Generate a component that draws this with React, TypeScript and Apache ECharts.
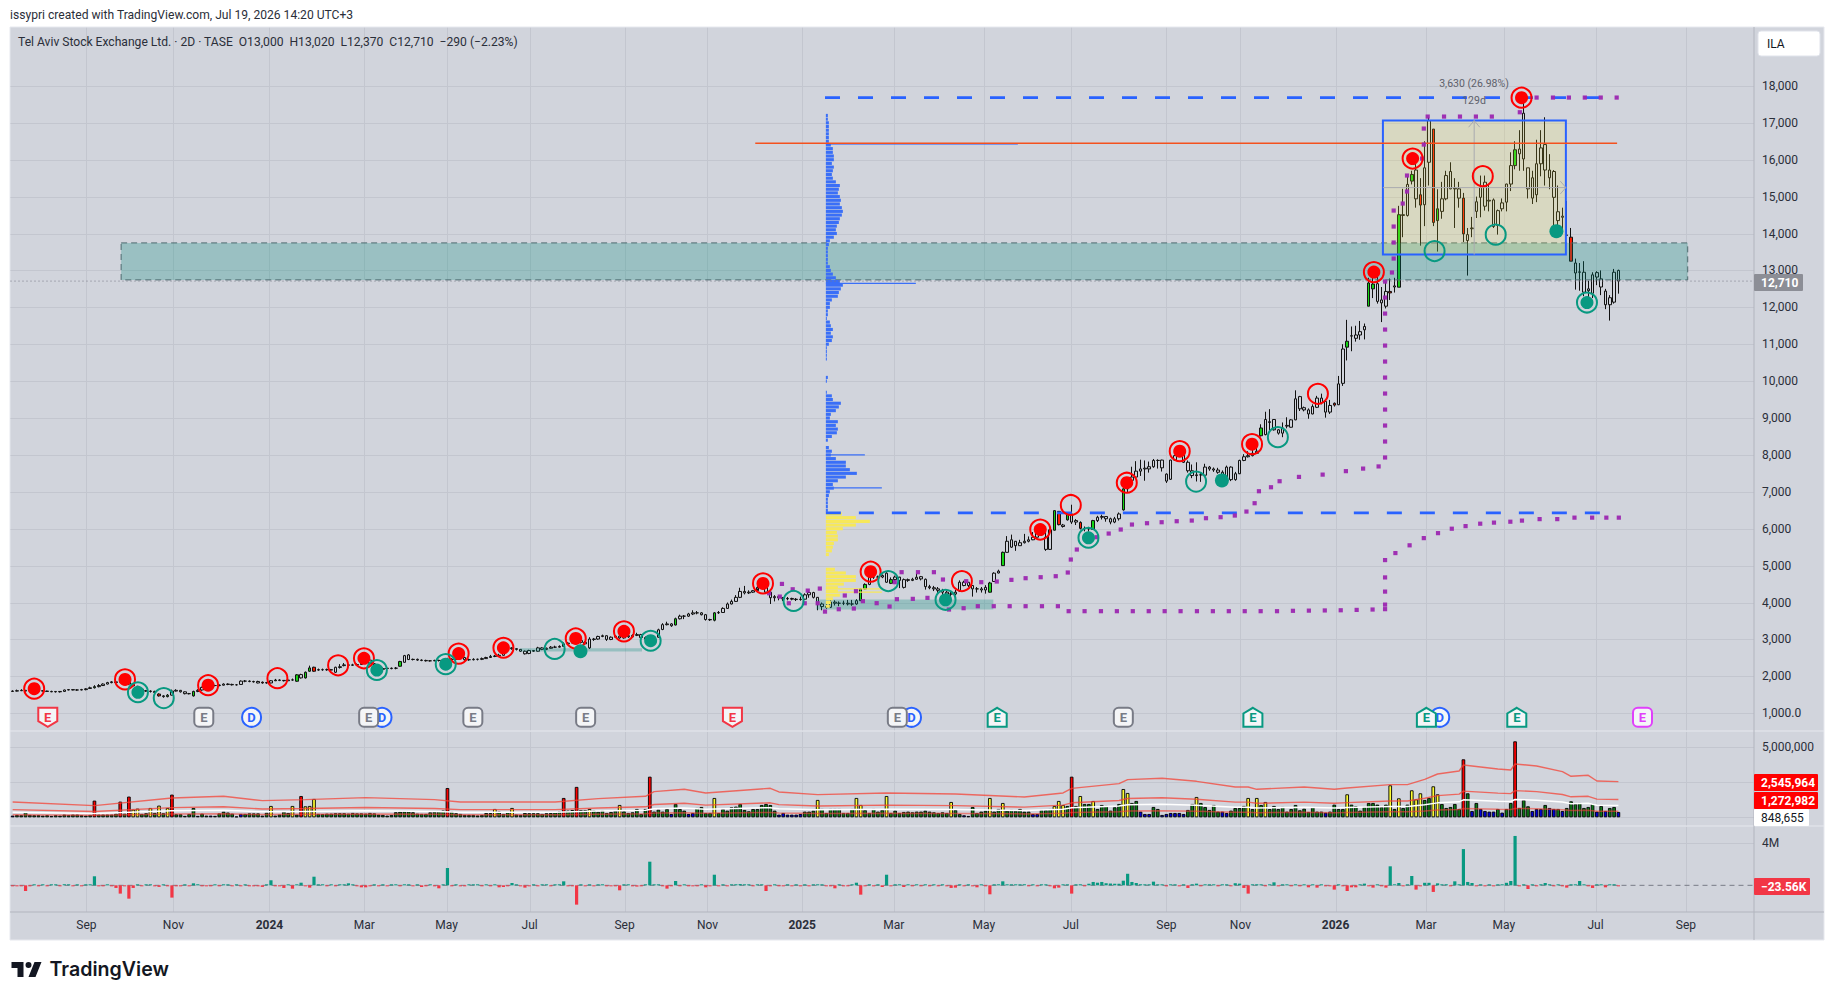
import React, { useEffect, useRef } from "react";
import * as echarts from "echarts";

const FONT = "Roboto, 'Noto Sans', sans-serif";
const SLOTS = 405;

const opens = [
1590,1600,1610,1620,1610,1650,1640,1610,1600,1590,
1590,1580,1590,1630,1640,1630,1630,1640,1670,1690,
1720,1750,1790,1830,1850,1840,1880,1880,1790,1730,
1650,1610,1600,1590,1520,1470,1450,1490,1600,1620,
1580,1530,1470,1590,1630,1700,1740,1750,1750,1760,
1790,1780,1770,1780,1870,1870,1850,1860,1840,1830,
1820,1880,1900,1890,1880,1900,1867,1957,1957,2138,
2246,2170,2180,2180,2180,2110,2240,2290,2310,2300,
2310,2320,2380,2440,2340,2220,2190,2220,2210,2220,
2273,2380,2580,2455,2460,2440,2430,2420,2420,2430,
2430,2420,2460,2460,2520,2510,2450,2450,2460,2460,
2480,2510,2540,2550,2570,2700,2770,2750,2730,2680,
2620,2700,2680,2770,2730,2760,2790,2790,2810,2880,
2900,2920,2970,2920,2770,3000,3010,3080,3100,3000,
3060,3090,3040,3100,3070,3110,3130,3050,3010,2960,
3060,3270,3400,3420,3390,3560,3630,3630,3690,3720,
3720,3670,3540,3520,3720,3730,3840,3960,4030,4140,
4300,4260,4280,4320,4410,4500,4280,4130,4160,4130,
4100,4110,4090,4080,4090,4210,4270,4140,3960,3890,
3870,4010,3980,3980,3980,3960,3960,4050,4370,4490,
4690,4690,4690,4550,4520,4620,4690,4410,4620,4600,
4630,4700,4630,4430,4400,4370,4330,4280,4230,4230,
4310,4460,4550,4460,4370,4370,4340,4280,4570,4800,
5000,5360,5500,5660,5540,5620,5660,5700,5770,5950,
5770,5440,5960,6470,6060,6240,6400,6180,6170,6010,
6000,5980,6220,6310,6330,6270,6180,6270,6510,7080,
7310,7400,7560,7640,7620,7680,7850,7860,7480,7340,
7860,7980,8010,7800,7570,7440,7460,7450,7670,7620,
7590,7530,7400,7670,7330,7490,7850,7950,7980,8045,
8520,8550,8880,8960,8680,8590,8780,8750,8950,9580,
9280,9110,9110,9290,9540,9450,9160,9400,9360,9940,
10920,11220,11160,11250,11390,12030,12500,12640,12200,12030,
12430,12550,12545,14490,14490,15420,15720,15050,14780,15930,
16830,14350,14600,14940,15210,15210,14960,14960,13810,14130,
14600,14980,14740,14880,14910,14220,14670,14850,15340,15840,
16160,16020,15780,15510,15050,15890,16410,15720,15680,14350,
14440,13960,13900,13200,12950,12950,12500,12380,12820,12770,
12440,12070,12140,13000,
];
const highs = [
1620,1640,1650,1630,1680,1690,1660,1620,1610,1610,
1600,1600,1640,1650,1650,1650,1660,1680,1720,1760,
1790,1810,1850,1870,1860,1900,1930,1890,1800,1740,
1680,1630,1620,1610,1540,1490,1520,1640,1650,1630,
1590,1550,1610,1650,1720,1770,1790,1770,1780,1810,
1810,1800,1790,1890,1900,1890,1880,1880,1860,1850,
1900,1930,1920,1900,1930,1940,2060,2070,2130,2290,
2260,2210,2210,2210,2200,2260,2330,2360,2330,2340,
2350,2400,2480,2460,2360,2240,2240,2240,2240,2250,
2420,2580,2600,2480,2480,2460,2450,2440,2450,2450,
2450,2500,2490,2550,2550,2530,2480,2490,2480,2510,
2530,2580,2580,2610,2720,2800,2790,2760,2740,2700,
2720,2710,2800,2790,2780,2820,2830,2840,2920,2930,
2950,3000,2980,2950,3060,3040,3100,3130,3110,3080,
3120,3110,3120,3130,3140,3180,3150,3080,3040,3080,
3290,3440,3480,3440,3590,3670,3660,3720,3790,3770,
3740,3690,3560,3740,3770,3870,4000,4080,4200,4400,
4450,4330,4340,4460,4560,4520,4300,4200,4190,4150,
4150,4130,4120,4160,4250,4320,4290,4150,4000,3980,
4060,4060,4030,4050,4070,4070,4090,4380,4520,4720,
4730,4730,4760,4820,4680,4730,4680,4650,4650,4670,
4800,4720,4650,4480,4450,4420,4370,4320,4310,4340,
4600,4590,4540,4470,4420,4420,4470,4560,4820,4890,
5380,5800,5840,5650,5700,5860,5790,5910,5990,6030,
5990,6000,6500,6480,6130,6420,6650,6260,6200,6060,
6050,6240,6350,6380,6340,6300,6320,6440,7100,7380,
7680,7830,7870,7850,7820,7890,7880,7870,7500,7870,
8000,8050,8020,7850,7740,7800,7520,7760,7700,7660,
7650,7580,7710,7690,7540,7870,8020,8100,8170,8200,
8830,9170,9240,8970,8700,8880,9020,8970,9750,9600,
9310,9260,9370,9600,9660,9470,9490,9420,10140,11000,
11660,11480,11500,11630,11560,12800,12900,12900,12550,12700,
12780,12800,14750,15210,15540,15700,16030,15500,16500,17150,
16830,15200,15400,15700,15930,15500,15400,15100,14150,14450,
15000,15570,15570,15330,14950,14650,14950,15350,16200,16500,
16800,17700,15780,15700,16540,16800,17150,16150,15720,15300,
14700,14880,14150,13320,13200,13250,12720,12950,12980,13000,
12500,12330,13040,13020,
];
const lows = [
1580,1590,1600,1590,1600,1640,1610,1590,1580,1570,
1560,1560,1580,1620,1620,1610,1620,1620,1660,1670,
1700,1740,1780,1810,1810,1830,1860,1760,1720,1640,
1580,1580,1560,1540,1450,1420,1430,1480,1590,1560,
1510,1510,1450,1570,1610,1680,1730,1730,1730,1750,
1760,1750,1750,1770,1840,1840,1830,1810,1800,1800,
1810,1870,1870,1860,1870,1880,1850,1940,1940,2120,
2120,2150,2150,2150,2090,2090,2210,2270,2280,2280,
2290,2310,2370,2320,2170,2170,2170,2190,2190,2190,
2260,2370,2440,2430,2420,2410,2400,2400,2410,2400,
2400,2410,2430,2450,2480,2420,2420,2430,2430,2440,
2470,2500,2520,2530,2560,2690,2720,2700,2660,2590,
2600,2660,2670,2710,2710,2750,2770,2780,2800,2860,
2880,2900,2890,2860,2740,2960,2990,3060,2960,2980,
3040,3020,3020,3040,3050,3090,3030,2980,2930,2950,
3050,3250,3380,3340,3380,3540,3550,3610,3660,3680,
3650,3510,3500,3490,3690,3720,3830,3950,4020,4120,
4220,4230,4260,4380,4480,4240,3960,4030,4060,4040,
4060,4060,4040,4050,4080,4130,4110,3790,3790,3830,
3850,3920,3900,3930,3920,3910,3940,4040,4360,4470,
4640,4650,4660,4530,4500,4580,4390,4380,4560,4580,
4620,4600,4350,4360,4310,4260,4180,4090,4120,4190,
4290,4440,4420,4160,4270,4270,4240,4270,4560,4790,
4990,5350,5480,5400,5540,5600,5630,5690,5760,5900,
5400,5430,5950,6090,6030,6220,6130,6100,5980,5930,
5920,5970,6180,6250,6190,6120,6150,6220,6490,6970,
7290,7390,7430,7300,7520,7650,7630,7550,7240,7320,
7840,7960,7780,7520,7370,7280,7270,7400,7570,7540,
7490,7340,7380,7290,7300,7480,7830,7930,7960,8030,
8500,8530,8660,8660,8550,8480,8720,8740,8940,9190,
9180,8980,9100,9270,9370,9010,9110,9310,9350,9870,
10560,10810,11070,11120,11130,12030,12250,12100,11600,11970,
12200,12400,12545,13900,14460,15330,14700,13670,14200,15300,
14200,13510,14400,14900,15200,14150,14700,13770,12860,13900,
14420,14440,14620,14600,14150,13970,14600,14600,15150,15740,
15700,15700,14950,14800,14850,15550,15300,15200,14200,14100,
14000,13940,13250,12480,12450,12300,12200,12250,12600,12330,
11950,11640,12100,12370,
];
const closes = [
1600,1610,1620,1600,1650,1660,1620,1600,1590,1580,
1580,1590,1630,1640,1630,1630,1640,1660,1690,1720,
1750,1790,1830,1850,1830,1880,1900,1790,1740,1660,
1600,1600,1590,1560,1470,1450,1490,1600,1620,1580,
1530,1530,1590,1620,1700,1750,1750,1750,1760,1790,
1780,1770,1770,1870,1870,1860,1860,1820,1820,1820,
1880,1900,1890,1880,1900,1903,2040,2047,2110,2228,
2138,2180,2180,2180,2170,2245,2260,2310,2300,2310,
2320,2380,2440,2340,2200,2190,2210,2210,2220,2220,
2400,2560,2455,2460,2440,2430,2420,2420,2430,2430,
2420,2460,2460,2520,2520,2450,2450,2460,2460,2480,
2510,2540,2550,2570,2700,2770,2750,2730,2680,2610,
2700,2680,2770,2730,2760,2790,2790,2810,2880,2900,
2920,2970,2920,2880,3010,3010,3080,3100,3000,3060,
3090,3040,3100,3070,3110,3130,3050,3010,2960,3060,
3260,3400,3420,3370,3560,3630,3630,3690,3720,3720,
3670,3540,3530,3720,3730,3840,3960,4030,4140,4300,
4260,4280,4320,4410,4500,4280,4130,4160,4130,4100,
4110,4090,4080,4090,4210,4270,4140,3960,3890,3870,
4010,3980,3980,3980,3960,3960,4050,4370,4490,4690,
4690,4690,4730,4795,4620,4690,4600,4620,4600,4630,
4685,4640,4430,4400,4370,4330,4280,4230,4230,4280,
4550,4550,4460,4370,4370,4340,4410,4530,4795,4850,
5360,5660,5700,5540,5620,5660,5700,5770,5950,5990,
5440,5970,6490,6110,6100,6400,6180,6220,6010,6000,
6000,6220,6310,6330,6270,6180,6270,6400,7080,7305,
7400,7560,7620,7620,7680,7850,7850,7650,7290,7860,
7980,8010,7800,7570,7440,7460,7460,7670,7620,7590,
7530,7400,7670,7330,7490,7850,7950,7980,8045,8100,
8730,8960,8900,8680,8590,8730,8800,8950,9520,9250,
9220,9220,9310,9540,9410,9160,9340,9350,9925,10870,
11080,11230,11250,11340,11480,12660,12630,12160,12120,12430,
12390,12580,14510,14510,15330,15600,14940,14770,15780,17060,
14300,14670,14940,15570,15680,15230,15210,13990,13970,14150,
14860,15250,15390,14900,14190,14620,14830,15340,15840,16270,
16290,17260,15210,14960,15890,16320,15720,15510,14980,14590,
14470,13950,13250,12930,12960,12410,12450,12880,12940,12550,
12070,12260,12950,12710,
];
const greenCandles = [19,36,42,61,66,68,69,90,154,163,197,198,204,227,230,242,245,251,258,290,310,315,316,322,325,331,349];
const redCandles = [34,58,70,243,248,307,320,327,330,337,362];

const volumesK = [
120,170,150,360,170,150,150,120,150,100,
150,120,190,150,190,190,150,120,170,1190,
190,190,190,190,260,1120,260,1480,547,620,
240,290,666,310,833,290,666,1620,220,220,
100,240,666,100,260,120,120,100,280,400,
340,260,60,240,240,280,280,280,120,330,
810,120,200,400,310,810,190,1520,785,810,
1310,240,230,260,260,290,290,290,260,310,
280,280,260,310,280,190,170,120,170,360,
410,430,430,360,260,240,240,360,410,430,
480,2090,400,290,240,170,170,170,130,170,
310,300,595,410,240,360,666,200,170,310,
290,290,290,240,290,310,360,410,1380,480,
520,2170,520,520,595,480,400,
476,309,381,476,880,428,309,357,595,238,
595,2900,405,547,405,595,238,952,595,476,
238,309,666,738,309,309,1380,309,595,476,
714,762,952,524,428,595,595,880,952,880,
476,190,309,190,190,190,238,405,405,476,
1240,595,309,595,595,595,309,309,595,1380,
880,524,309,595,405,524,1520,309,476,309,
380,405,357,405,405,476,405,357,309,357,
309,1095,524,238,143,95,738,309,405,476,
1380,405,595,1023,476,524,476,595,405,405,
238,238,524,524,595,810,1166,880,810,2900,
810,1520,952,952,1166,595,880,810,476,714,
952,2020,1737,1023,1166,405,238,238,738,595,
167,238,309,309,309,238,524,952,1450,1023,
738,524,880,405,405,309,476,666,666,810,
1380,595,1380,880,1095,595,810,595,738,405,
595,880,500,
619,381,714,405,405,333,405,904,595,595,
1642,904,785,476,738,1023,1023,904,738,904,
2285,595,1357,666,904,1928,1285,1714,1238,1380,
2213,1642,952,666,738,952,595,4141,1714,452,
1023,595,452,405,405,595,333,595,1023,5426,
666,1238,785,452,595,595,880,666,595,595,
452,666,1142,952,1023,666,738,952,405,809,
452,666,738,381,
];
const yellowVolumes = [28,29,32,34,36,60,65,68,69,70,112,116,134,141,163,187,196,197,203,218,227,230,242,243,244,248,251,258,259,275,287,289,291,310,320,322,325,326,327,330,331];
const redVolumes = [19,25,27,37,67,101,128,131,148,246,337,349];
const blueVolumes = [0,43,46,52,53,153,157,158,178,179,180,181,182,183,221,222,237,238,262,263,264,267,268,269,270,271,272,281,282,305,339,341,342,343,344,346,353,354,355,357,358,360,368,370,373];

const deltasK = [
-20,-20,-20,-540,-20,20,-20,20,-20,20,
20,-20,30,20,-20,20,-20,20,90,860,
-20,-20,20,-20,-250,-790,-20,-1270,-250,20,
-30,20,30,-20,-150,20,-30,-1170,-20,-20,
20,-20,190,100,-20,-20,-30,20,-20,20,
20,-20,30,-20,20,-50,-20,-30,-150,20,
480,-20,-30,-250,20,-320,20,250,-30,-220,
820,40,20,-20,20,-20,20,20,190,40,
-20,-190,-190,-20,20,-30,20,-20,20,30,
-30,20,40,-20,20,-160,-20,20,-30,-285,
20,1650,-60,20,-20,-30,40,20,20,-20,
40,-20,60,-190,-160,-20,220,20,-30,-220,
-30,20,-20,50,20,-20,40,30,380,-20,
-50,-1840,60,-20,40,-20,20,30,-20,-30,
-20,-475,20,40,-30,-120,-20,20,2250,30,
20,-20,-315,-20,410,-40,60,-30,-20,-30,
40,-190,-20,1010,-30,20,-20,60,100,120,
30,20,-20,20,40,-540,-20,20,-20,-30,
20,-20,30,-20,30,-40,20,40,30,-20,
-40,-285,20,-20,-30,60,250,-890,-40,20,
-30,40,-160,1010,-30,20,40,-160,20,-30,
20,-20,30,-20,40,-30,20,-40,-250,-220,
30,-20,20,-20,-190,40,-40,-855,90,30,
380,90,60,40,50,30,-20,40,-40,30,
50,-60,-285,-220,60,30,-790,40,100,-40,
150,320,250,320,200,170,150,150,440,1100,
320,220,100,90,60,350,60,20,-100,30,
40,-30,60,-250,100,160,-40,60,30,60,
-40,30,60,-30,200,160,-250,-790,20,100,
30,-40,60,285,-30,40,20,-30,50,-20,
30,-190,20,-220,40,-30,-60,-410,30,-40,
-540,-190,-190,40,160,-30,-220,30,-20,-220,
1810,20,220,-30,30,890,-410,-60,240,240,
-630,190,40,100,-30,380,20,3450,320,220,
-30,60,-20,30,-20,20,30,240,410,4700,
-20,30,-350,30,-20,20,220,30,-40,20,
-30,-220,50,60,410,40,-30,-250,30,60,
-190,30,100,-23.56,
];

const bandPos = [0,19,37,49,58,68,82,98,104,126,136,147,149,156,161,176,178,187,203,219,235,244,246,257,259,267,275,284,287,289,300,307,310,320,324,328,331,336,337,345,348,349,354,360,362,366,368,373];
const bandUpperK = [1095,833,1380,1500,1190,1260,1404,1260,1095,1095,1333,1500,1833,2000,1737,2070,1810,1620,1737,1666,1450,1737,2070,2404,2690,2785,2570,2166,2166,2000,2166,2000,2094,2332,2332,2713,3094,3308,3737,3451,3380,3808,3665,3261,2927,2999,2594,2546];
const bandMidK = [548,417,690,750,595,630,702,630,548,548,667,750,917,1000,869,1035,905,810,869,833,725,869,1035,1202,1345,1393,1285,1083,1083,1000,1083,1000,1047,1166,1166,1357,1547,1654,1869,1726,1690,1904,1833,1631,1464,1500,1297,1273];
const volumeMaK = [365,278,460,500,397,420,468,420,365,365,444,500,611,667,579,690,603,540,579,555,483,579,690,801,897,928,857,722,722,667,722,667,698,777,777,904,1031,1103,1246,1150,1127,1269,1222,1087,976,1000,865,849];
const bandLowK = [183,139,230,250,198,210,234,210,183,183,222,250,306,333,290,345,302,270,290,278,242,290,345,401,448,464,428,361,361,333,361,333,349,389,389,452,516,551,623,575,563,635,611,544,488,500,432,424];

const purpleDots = [
[176.2,4251],[178.7,4161],[179.2,4504],[180.8,3980],[181.7,4359],[184.5,3980],[185.2,4323],[187.5,3980],[188,4378],[189.2,3754],[192.4,3818],
[193.8,4190],[195.9,3837],[196.4,4307],[198,4036],[201.2,3982],[204.2,3892],[205.4,4551],[205.9,4090],[207,4822],[209.6,4099],[210.8,4822],[213,4126],[214.5,4822],[216.6,4623],[218,3810],[221.4,3846],[222,4578],[224.7,3900],[225.5,4551],[228.4,3900],[229.1,4569],[232.1,3900],[232.5,4614],[235.8,3900],[235.8,4659],[239.3,4686],[239.6,3900],[242.8,4713],[243.3,3900],[245.6,4813],[245.8,3765],[246.3,5165],[247.7,5436],[249.5,3765],
[252.3,5770],[253.3,3765],[255.1,5869],[257,3765],[257.9,5978],[260.5,6113],[260.7,3765],[264,6149],[264.4,3765],[267.4,6176],[268.1,3765],[270.9,6203],[271.8,3765],[274.4,6221],[275.6,3765],[277.7,6285],[279.3,3765],[281.1,6312],[283,3765],[284.4,6357],[286.7,3765],[287.1,6465],[289,6691],[290,7016],[290.4,3765],[292.8,7124],[294.2,3765],[294.8,7287],
[297.9,3775],[299.3,7404],[301.6,3780],[304.8,7466],[305.3,3785],[309,3790],[310.2,7560],[312.7,3800],[314.2,7629],[316.4,3810],[317.8,7688],
[319.3,3820],[319.3,3943],[319.3,4296],[319.3,4680],[319.3,5150],[321.7,5340],[325,5550],[328.3,5745],[331.6,5880],[334.8,6000],[338,6070],[341.4,6136],[344.6,6165],[348.4,6190],[351.1,6220],[355.2,6260],[359.3,6260],[363.3,6300],[367.4,6300],[370.7,6300],[373.6,6300],
[319.3,7930],[319.3,8363],[319.3,8796],[319.3,9229],[319.3,9663],[319.3,10096],[319.3,10530],[319.3,10963],[319.3,11397],[319.3,11830],[319.3,12264],[319.3,12697],
[320.9,12943],[321.3,13322],[321.3,13756],[321.3,14189],[321.3,14622],[323.4,14812],[324.4,15137],[324.4,15571],[327.9,16031],[328.3,16410],[328.3,16844],[329.2,17169],[333,17169],[336.7,17169],[340.4,17169],[344.1,17169],[350.6,17286],[354.5,17684],[358.3,17684],[362,17684],[365.7,17684],[369.4,17684],[373.1,17684],
];

const redFilled = [[5.5,1664],[26.6,1917],[45.9,1759],[82.1,2488],[104.1,2615],[114.5,2774],[131.3,3027],[142.5,3218],[174.8,4518],[199.8,4835],[239.2,5977],[259.3,7246],[271.6,8102],[288.4,8292],[316.7,12954],[325.7,16031],[351,17680]];
const redRings = [[62,1949],[76.1,2298],[221,4581],[246.3,6643],[303.7,9656],[342,15555]];
const tealFilledRinged = [[29.6,1568],[85.1,2171],[101.1,2330],[148.7,2964],[217.2,4074],[250.4,5755],[366.2,12130]];
const tealRings = [[35.6,1410],[126.4,2742],[181.9,4042],[203.9,4581],[275.4,7277],[294.4,8482],[330.8,13525],[345,13969]];
const tealFilled = [[132.4,2678],[281.4,7309],[359.1,14064]];

const bluePrices = [17200,17100,17000,16900,16800,16700,16600,16500,16400,16300,16200,16100,16000,15900,15800,15700,15600,15500,15400,15300,15200,15100,15000,14900,14800,14700,14600,14500,14400,14300,14200,14100,14000,13900,13800,13700,13600,13500,13400,13300,13200,13100,13000,12900,12800,12700,12600,12500,12400,12300,12200,12100,12000,11900,11800,11700,11600,11500,11400,11300,11200,11100,11000,10900,10800,10700,10600,10100,10000,9700,9600,9500,9400,9300,9200,9100,9000,8900,8800,8700,8600,8500,8400,8200,8100,8000,7900,7800,7700,7600,7500,7400,7300,7200,7100,7000,6900,6800,6700,6600,6500];
const blueProfile = [2,2,3,3,3,3,3,3,5,7,7,8,8,6,8,7,6,7,10,14,13,12,14,15,14,16,17,16,14,13,11,10,11,8,4,3,2,2,2,2,2,4,5,7,10,14,17,15,13,12,6,4,4,2,2,1,4,5,7,5,7,6,3,1,1,1,1,2,1,1,6,7,15,13,10,5,4,12,10,12,11,6,2,3,6,5,10,20,20,24,31,20,12,7,8,4,3,2,2,2,2];
const yellowPrices = [6400,6300,6200,6100,6000,5900,5800,5700,5600,5500,5400,5300,4900,4800,4700,4600,4500,4400,4300,4200,4100,4000,3900];
const yellowProfile = [16,30,44,30,17,11,12,12,8,7,6,3,9,20,30,30,18,12,12,14,7,5,4];
const blueSpikes = [[12650,90],[8000,39],[7106,56]];
const yellowSpikes = [[4370,56],[4280,56]];

const priceTicks = [1000,2000,3000,4000,5000,6000,7000,8000,9000,10000,11000,12000,13000,14000,15000,16000,17000,18000];
const volumeGrid = [0,2500000,5000000];
const deltaGrid = [4000000];
const xTickPos = [17.65,37.84,60.14,82.18,101.3,120.6,142.65,161.9,183.9,205.2,226.1,246.3,268.5,285.7,307.8,328.8,346.9,368.2,389.2];
const xTickLabels = ["Sep","Nov","2024","Mar","May","Jul","Sep","Nov","2025","Mar","May","Jul","Sep","Nov","2026","Mar","May","Jul","Sep"];

const eventPos = [56,86.3,209.3,332,8.66,44.9,83.2,107.4,133.6,167.7,206,229.2,258.5,288.6,328.9,349.9,379.1];
const eventKind = ["D","D","D","D","R","G","G","G","G","R","G","T","G","T","T","T","P"];

const PANE = "#d1d4dc";
const GRIDC = "#c3c6cf";
const TEXT = "#2a2e39";
const RED = "#ff0000";
const TEAL = "#089981";

echarts.graphic.registerShape(
  "tvlogo",
  echarts.graphic.extendPath("M14 6H2v6h6v9h6V6Zm12 15h-7l6-15h7l-6 15Zm-7-9a3 3 0 1 0 0-6 3 3 0 0 0 0 6Z", {})
);

const fmt = (v: number) => String(v).replace(/\B(?=(\d{3})+$)/g, ",");

function lineSeries(grid: number, pts: number[][], color: string, width: number, dash: any, z = 5) {
  return {
    type: "line", xAxisIndex: grid * 2 + 1, yAxisIndex: grid, data: pts, symbol: "none", silent: true, z,
    lineStyle: { color, width, type: dash },
  };
}
function gridLines(grid: number, vertical: number[], horizontal: number[]) {
  return [
    { type: "custom", xAxisIndex: grid * 2 + 1, yAxisIndex: grid, silent: true, z: 1, clip: true,
      data: vertical.map((v) => [v, 0]), encode: { x: 0 },
      renderItem: (p: any, api: any) => {
        const x = Math.round(api.coord([api.value(0), 0])[0]) + 0.5;
        const c = p.coordSys;
        return { type: "line", shape: { x1: x, x2: x, y1: c.y, y2: c.y + c.height }, style: { stroke: GRIDC, lineWidth: 1 } };
      } },
    { type: "custom", xAxisIndex: grid * 2 + 1, yAxisIndex: grid, silent: true, z: 1, clip: true,
      data: horizontal.map((v) => [0, v]), encode: { y: 1 },
      renderItem: (p: any, api: any) => {
        const y = Math.round(api.coord([0, api.value(1)])[1]) + 0.5;
        const c = p.coordSys;
        return { type: "line", shape: { x1: c.x, x2: c.x + c.width, y1: y, y2: y }, style: { stroke: GRIDC, lineWidth: 1 } };
      } },
  ];
}
function rectSeries(box: number[], fill: string, stroke: string | null, lineWidth: number, lineDash: any, z: number) {
  return {
    type: "custom", xAxisIndex: 1, yAxisIndex: 0, silent: true, z, data: [box], encode: { x: [0, 2], y: [1, 3] },
    renderItem: (_: any, api: any) => {
      const a = api.coord([api.value(0), api.value(1)]);
      const b = api.coord([api.value(2), api.value(3)]);
      return {
        type: "rect", shape: { x: a[0], y: a[1], width: b[0] - a[0], height: b[1] - a[1] },
        style: { fill, stroke, lineWidth, lineDash },
      };
    },
  };
}
function profileSeries(prices: number[], widths: number[], color: string, rowHeight: number) {
  return {
    type: "custom", xAxisIndex: 1, yAxisIndex: 0, silent: true, z: 3,
    data: prices.map((p, i) => [p, widths[i]]), encode: { y: 0 },
    renderItem: (_: any, api: any) => {
      const left = api.coord([189.4, api.value(0)]);
      const right = api.coord([189.4 + api.value(1) / 4.305, api.value(0)]);
      return {
        type: "rect",
        shape: { x: left[0], y: left[1] - rowHeight / 2, width: right[0] - left[0], height: rowHeight },
        style: { fill: color },
      };
    },
  };
}
function marks(data: number[][], size: number, fill: string, stroke: string, bw: number, z = 8) {
  return {
    type: "scatter", xAxisIndex: 1, yAxisIndex: 0, silent: true, z, data, symbol: "circle", symbolSize: size,
    itemStyle: { color: fill, borderColor: stroke, borderWidth: bw, opacity: 1 },
  };
}

const HOUSE = "path://M10 0 L20 6 V20 H0 V6 Z";
const SHIELD = "path://M0 0 H20 V14 L10 20 L0 14 Z";
const eventStyle: Record<string, any> = {
  D: { symbol: "circle", border: "#2962ff", text: "#2962ff", label: "D" },
  R: { symbol: SHIELD, border: "#f23645", text: "#f23645", label: "E" },
  G: { symbol: "roundRect", border: "#787b86", text: "#787b86", label: "E" },
  T: { symbol: HOUSE, border: "#089981", text: "#089981", label: "E" },
  P: { symbol: "roundRect", border: "#e040fb", text: "#e040fb", label: "E" },
};
function eventSeries() {
  const out: any[] = [];
  ["D", "R", "G", "T", "P"].forEach((k) => {
    const s = eventStyle[k];
    const data = eventPos.filter((_, i) => eventKind[i] === k).map((p) => [p, 890]);
    out.push({
      type: "scatter", xAxisIndex: 1, yAxisIndex: 0, silent: true, z: 9 + (k === "D" ? 0 : 1), data,
      symbol: s.symbol, symbolSize: 19, symbolKeepAspect: true,
      itemStyle: { color: "#f4f5f7", borderColor: s.border, borderWidth: 2, opacity: 1, shadowBlur: 0 },
      label: { show: true, position: "inside", formatter: s.label, color: s.text, fontFamily: FONT, fontWeight: "bold", fontSize: 13 },
    });
  });
  return out;
}

function badge(x: number, y: number, w: number, h: number, fill: string, text: string, color: string, bold = false) {
  return [
    { type: "rect", z: 100, shape: { x, y, width: w, height: h, r: 1 }, style: { fill } },
    { type: "text", z: 101, x: x + 7, y: y + h / 2, style: { text, fill: color, font: `${bold ? "bold " : ""}12px ${FONT}`, verticalAlign: "middle", align: "left" } },
  ];
}

function buildOption() {
  const candleData = opens.map((o, i) => {
    const fill = greenCandles.includes(i) ? "#14d414" : redCandles.includes(i) ? "#ff1a00" : "rgba(0,0,0,0)";
    return {
      value: [o, closes[i], lows[i], highs[i]],
      itemStyle: { color: fill, color0: fill, borderColor: "#111", borderColor0: "#111", borderColorDoji: "#111" },
    };
  });
  const volumeData = volumesK.map((v, i) => ({
    value: v * 1000,
    itemStyle: {
      color: redVolumes.includes(i) ? "#ff0000" : yellowVolumes.includes(i) ? "#ffff33" : blueVolumes.includes(i) ? "#0000d8" : "#0b7a16",
      borderColor: "#000", borderWidth: 0.9,
    },
  }));
  const deltaData = deltasK.map((v) => ({
    value: v * 1000,
    itemStyle: { color: v >= 0 ? TEAL : "#f23645" },
  }));
  const bandLine = (arr: number[]) => bandPos.map((p, i) => [p + 0.5, arr[i] * 1000]);
  const cats = Array.from({ length: SLOTS }, (_, i) => String(i));
  const xAxis: any[] = [];
  [0, 1, 2].forEach((g) => {
    xAxis.push({ type: "category", gridIndex: g, data: cats, show: false, boundaryGap: true });
    xAxis.push(g === 2
      ? {
          type: "value", gridIndex: g, min: 0, max: SLOTS, position: "bottom",
          axisLine: { show: false }, axisTick: { show: false }, splitLine: { show: false },
          axisLabel: {
            show: true, customValues: xTickPos, margin: 7, color: TEXT, fontFamily: FONT, fontSize: 12,
            formatter: (v: number) => {
              const t = xTickLabels[xTickPos.indexOf(v)] ?? "";
              return /^\d+$/.test(t) ? `{b|${t}}` : t;
            },
            rich: { b: { fontWeight: "bold", fontSize: 12, color: TEXT, fontFamily: FONT } },
          },
        }
      : { type: "value", gridIndex: g, min: 0, max: SLOTS, show: false });
  });
  const yAx = (g: number, min: number, max: number, custom: number[], formatter: any) => ({
    type: "value", gridIndex: g, position: "right", min, max,
    axisLine: { show: false }, axisTick: { show: false }, splitLine: { show: false },
    axisLabel: { customValues: custom, formatter, margin: 8, color: TEXT, fontFamily: FONT, fontSize: 12 },
  });
  const series: any[] = [
    ...gridLines(0, xTickPos, priceTicks),
    ...gridLines(1, xTickPos, volumeGrid),
    ...gridLines(2, xTickPos, deltaGrid),
    {
      type: "candlestick", xAxisIndex: 0, yAxisIndex: 0, data: candleData, barWidth: 3, silent: true, z: 2,
      itemStyle: { borderWidth: 1 },
    },
    rectSeries([25.7, 13745, 389.6, 12743], "rgba(0,137,123,0.263)", "#4d6a6e", 1, [6, 4], 3),
    rectSeries([187.2, 4079, 228.3, 3808], "rgba(0,137,123,0.28)", null, 0, null, 3),
    rectSeries([118.4, 2759, 146.7, 2670], "rgba(0,137,123,0.28)", null, 0, null, 3),
    profileSeries(bluePrices, blueProfile, "#3a6ff7", 3.1),
    profileSeries(yellowPrices, yellowProfile, "#f7e85a", 3.1),
    profileSeries(blueSpikes.map((r) => r[0]), blueSpikes.map((r) => r[1]), "#3a6ff7", 1.2),
    profileSeries(yellowSpikes.map((r) => r[0]), yellowSpikes.map((r) => r[1]), "#f7e85a", 1.2),
    rectSeries([318.8, 17060, 361.3, 13428], "rgba(255,235,59,0.17)", "#2962ff", 2, null, 4),
    lineSeries(0, [[318.8, 15244], [361.3, 15244]], "#a9abb0", 1, "solid"),
    lineSeries(0, [[360, 15420], [361.3, 15244], [360, 15070]], "#a9abb0", 1, "solid"),
    lineSeries(0, [[340, 17060], [340, 13428]], "#a9abb0", 1, "solid"),
    lineSeries(0, [[338.7, 16880], [340, 17060], [341.3, 16880]], "#a9abb0", 1, "solid"),
    lineSeries(0, [[189.4, 16425], [234, 16425]], "#2962ff", 1, "solid"),
    lineSeries(0, [[173, 16444], [373.2, 16444]], "#f4511e", 1.6, "solid", 6),
    lineSeries(0, [[189.2, 17683], [373.2, 17683]], "#2962ff", 2.8, [15, 18]),
    lineSeries(0, [[189.4, 6430], [373.2, 6430]], "#2962ff", 2.8, [15, 18]),
    lineSeries(0, [[0, 12710], [SLOTS, 12710]], "#787b86", 1, [1, 3]),
    {
      type: "scatter", xAxisIndex: 1, yAxisIndex: 0, silent: true, z: 7, data: purpleDots, symbol: "rect", symbolSize: 4.2,
      itemStyle: { color: "#9c27b0", opacity: 0.95 },
    },
    marks(redFilled, 20, "rgba(0,0,0,0)", RED, 2),
    marks(redFilled, 13, RED, RED, 0),
    marks(redRings, 20, "rgba(0,0,0,0)", RED, 2),
    marks(tealFilledRinged, 20, "rgba(0,0,0,0)", TEAL, 2),
    marks(tealFilledRinged, 13, TEAL, TEAL, 0),
    marks(tealRings, 20, "rgba(0,0,0,0)", TEAL, 2),
    marks(tealFilled, 14, TEAL, TEAL, 0),
    ...eventSeries(),
    {
      type: "bar", xAxisIndex: 2, yAxisIndex: 1, data: volumeData, barWidth: 3.6, silent: true, z: 2,
    },
    lineSeries(1, bandLine(bandLowK), "rgba(244,67,54,0.6)", 1.5, "solid"),
    lineSeries(1, bandLine(volumeMaK), "#ffffff", 1.5, "solid"),
    lineSeries(1, bandLine(bandMidK), "rgba(244,67,54,0.75)", 1.4, "solid"),
    lineSeries(1, bandLine(bandUpperK), "rgba(244,67,54,0.75)", 1.4, "solid"),
    lineSeries(2, [[0, 0], [SLOTS, 0]], "#787b86", 1, [5, 4], 1),
    {
      type: "bar", xAxisIndex: 4, yAxisIndex: 2, data: deltaData, barWidth: 3.2, barMinHeight: 1, silent: true, z: 2,
    },
  ];
  const graphic = [
    { type: "rect", z: -5, shape: { x: 10, y: 27, width: 1814, height: 913 }, style: { fill: PANE, stroke: "#e6e8ee", lineWidth: 1 } },
    { type: "line", z: 20, shape: { x1: 10, x2: 1824, y1: 731, y2: 731 }, style: { stroke: "#e6e8ee", lineWidth: 1 } },
    { type: "line", z: 20, shape: { x1: 10, x2: 1824, y1: 826, y2: 826 }, style: { stroke: "#e6e8ee", lineWidth: 1 } },
    { type: "line", z: 20, shape: { x1: 10, x2: 1824, y1: 912, y2: 912 }, style: { stroke: "#b2b5be", lineWidth: 1 } },
    { type: "line", z: 20, shape: { x1: 1754, x2: 1754, y1: 27, y2: 940 }, style: { stroke: "#b2b5be", lineWidth: 1 } },
    { type: "text", z: 30, x: 10, y: 15, style: { text: "issypri created with TradingView.com, Jul 19, 2026 14:20 UTC+3", fill: "#2a2e39", font: `12.1px ${FONT}`, verticalAlign: "middle" } },
    { type: "text", z: 30, x: 18, y: 42, style: { text: "Tel Aviv Stock Exchange Ltd. · 2D · TASE  O13,000  H13,020  L12,370  C12,710  −290 (−2.23%)", fill: "#2a2e39", font: `12.1px ${FONT}`, verticalAlign: "middle" } },
    { type: "text", z: 30, x: 1474, y: 83, style: { text: "3,630 (26.98%)", fill: "#5d606b", font: `10.5px ${FONT}`, align: "center", verticalAlign: "middle" } },
    { type: "text", z: 30, x: 1474, y: 100.5, style: { text: "129d", fill: "#5d606b", font: `10.5px ${FONT}`, align: "center", verticalAlign: "middle" } },
    { type: "rect", z: 100, shape: { x: 1758, y: 31, width: 62, height: 25, r: 3 }, style: { fill: "#ffffff", stroke: "#e0e3eb", lineWidth: 1 } },
    { type: "text", z: 101, x: 1767, y: 44, style: { text: "ILA", fill: "#131722", font: `12px ${FONT}`, verticalAlign: "middle" } },
    ...badge(1754, 274, 49, 17, "#8c8e96", "12,710", "#ffffff", true),
    ...badge(1754, 774, 64, 17, "#ff0000", "2,545,964", "#ffffff", true),
    ...badge(1754, 792, 64, 17, "#ff0000", "1,272,982", "#ffffff", true),
    ...badge(1754, 809, 55, 17, "#ffffff", "848,655", "#131722"),
    ...badge(1754, 878, 56, 17, "#f23645", "−23.56K", "#ffffff", true),
    { type: "tvlogo", z: 30, x: 9.5, y: 956, scaleX: 1, scaleY: 1, style: { fill: "#131722" } },
    { type: "text", z: 30, x: 49.5, y: 968.5, style: { text: "TradingView", fill: "#131722", font: `600 19.6px Inter, ${FONT}`, verticalAlign: "middle" } },
  ];
  return {
    animation: false,
    backgroundColor: "#ffffff",
    textStyle: { fontFamily: FONT },
    grid: [
      { left: 10.5, top: 27.6, width: 1743.5, height: 703.7 },
      { left: 10.5, top: 731.7, width: 1743.5, height: 94.3 },
      { left: 10.5, top: 826.5, width: 1743.5, height: 85.5 },
    ],
    xAxis,
    yAxis: [
      yAx(0, 510, 19580, priceTicks, (v: number) => (v === 1000 ? "1,000.0" : fmt(v))),
      yAx(1, -621000, 6114000, [5000000], (v: number) => fmt(v)),
      yAx(2, -2540000, 5600000, [4000000], () => "4M"),
    ],
    series,
    graphic,
  };
}

export default function App() {
  const ref = useRef<HTMLDivElement | null>(null);
  useEffect(() => {
    const chart = echarts.init(ref.current as HTMLDivElement, undefined, { renderer: "svg" });
    chart.setOption(buildOption() as any);
    return () => chart.dispose();
  }, []);
  return <div ref={ref} style={{ position: "absolute", left: 0, top: 0, width: 1835, height: 1000 }} />;
}
